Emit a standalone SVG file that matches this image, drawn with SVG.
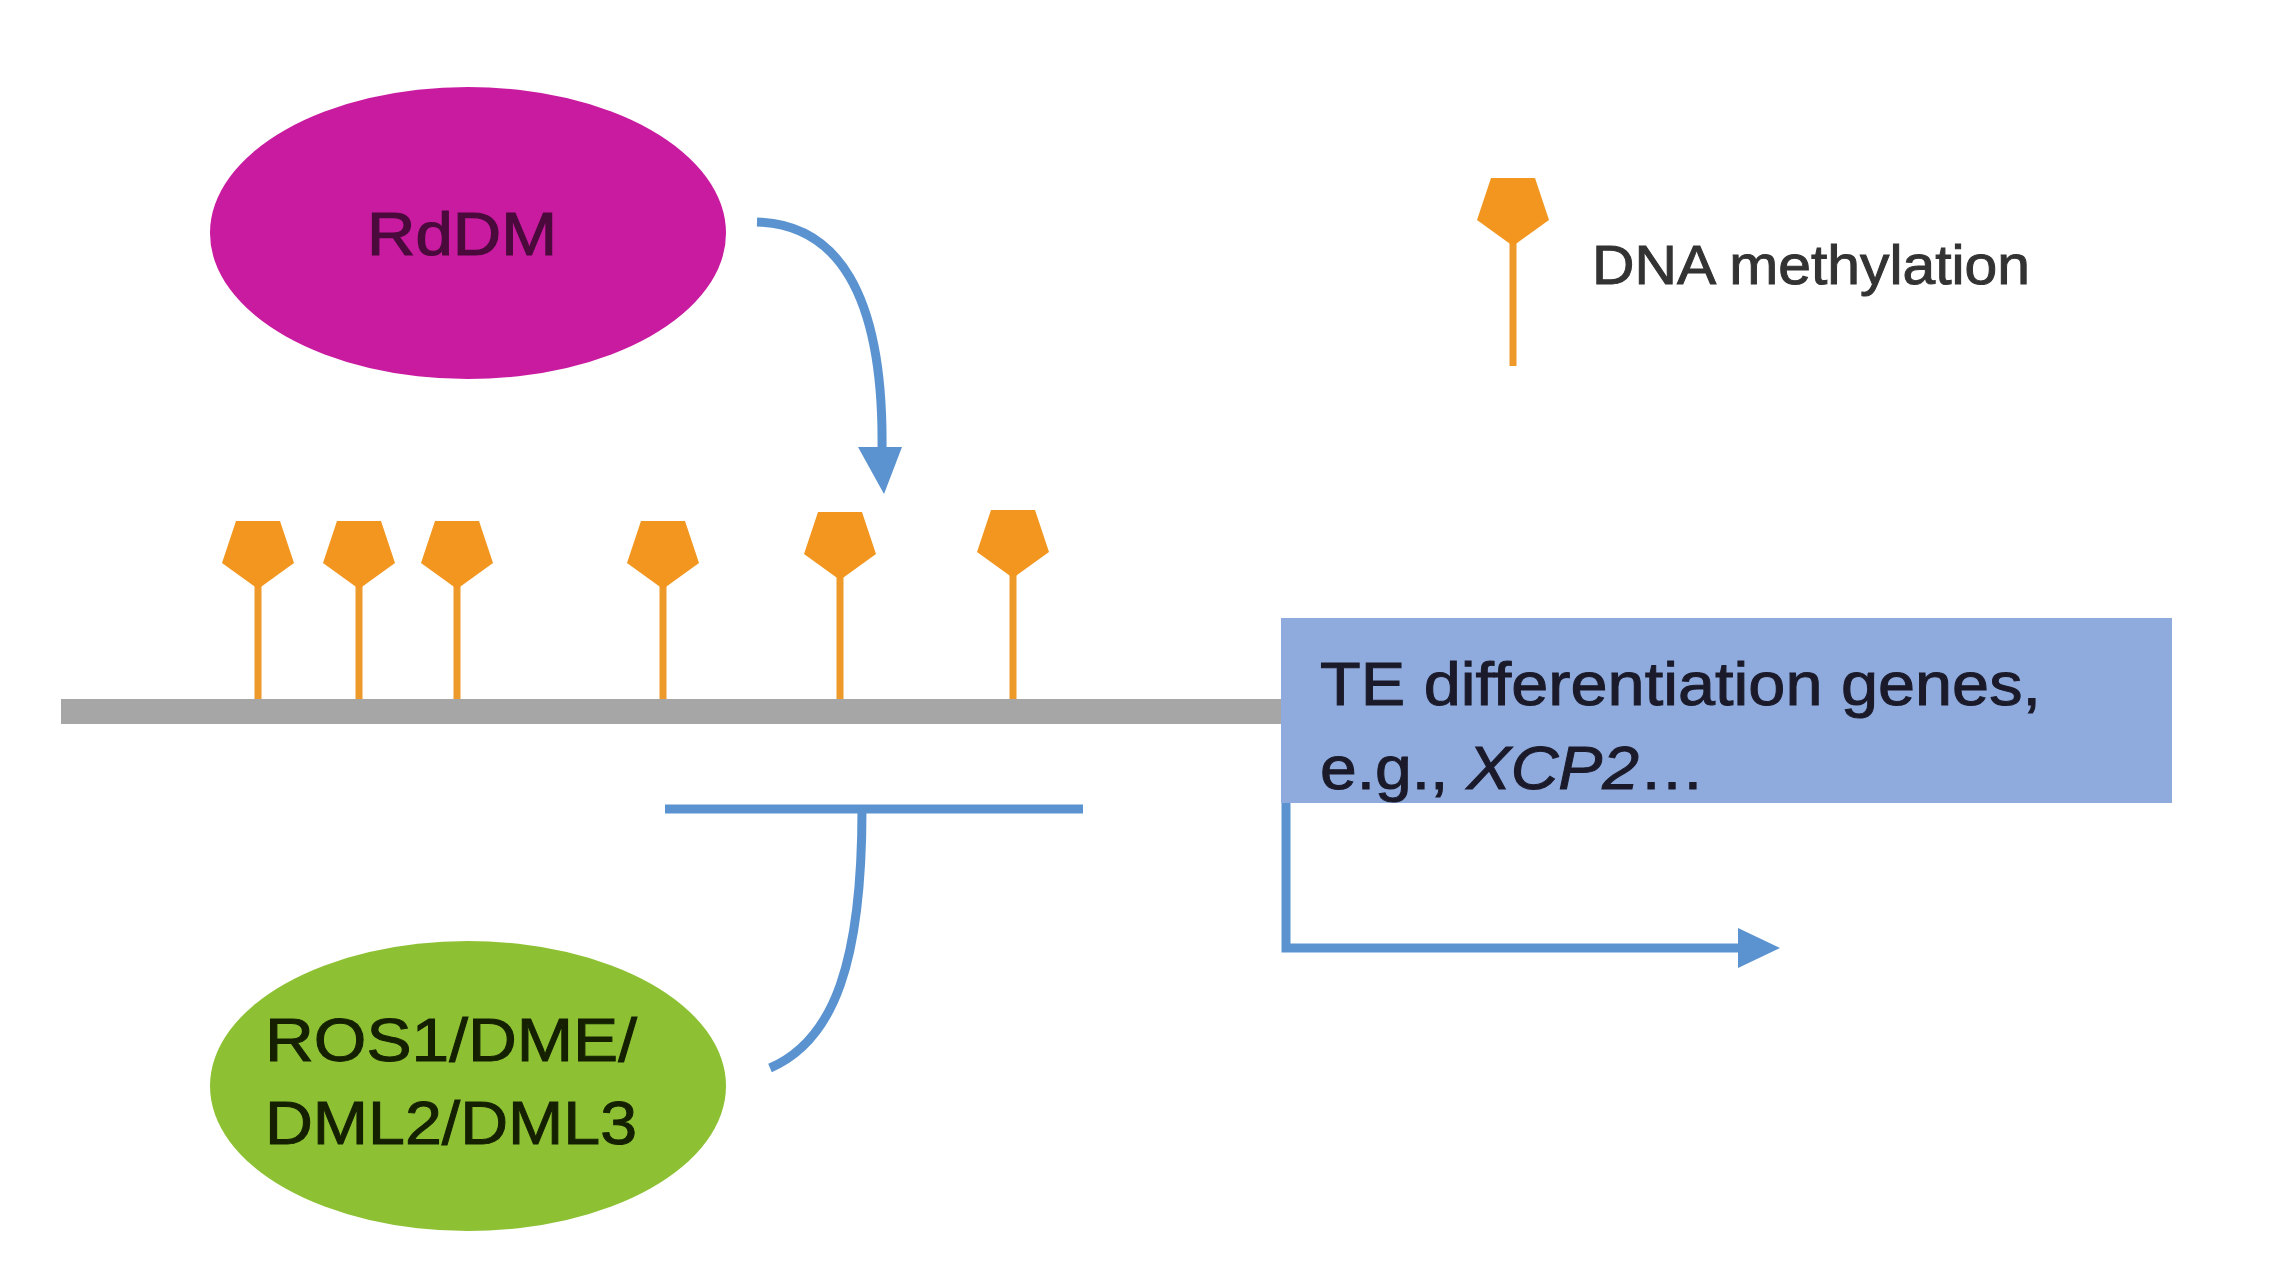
<svg xmlns="http://www.w3.org/2000/svg" xmlns:xlink="http://www.w3.org/1999/xlink" width="2270" height="1280" viewBox="0 0 2270 1280">
<defs>
<style>
.lbl{font-family:"Liberation Sans",Arial,"DejaVu Sans",sans-serif;}
.stem{stroke:#EE9A2A;stroke-width:7;fill:none;}
.head{fill:#F2961F;}
.blue{stroke:#5A93CF;stroke-width:9;fill:none;stroke-linecap:butt;}
</style>
<path id="pent" class="head" d="M-22,0 L22,0 L36,42 L0,68 L-36,42 Z"/>
</defs>
<rect x="0" y="0" width="2270" height="1280" fill="#ffffff"/>

<g id="dna">
<rect x="61" y="699" width="1222" height="25" fill="#A6A6A6"/>
</g>

<g id="methylation-marks">
<line class="stem" x1="258" y1="560" x2="258" y2="699"/>
<use href="#pent" x="258" y="521"/>
<line class="stem" x1="359" y1="560" x2="359" y2="699"/>
<use href="#pent" x="359" y="521"/>
<line class="stem" x1="457" y1="560" x2="457" y2="699"/>
<use href="#pent" x="457" y="521"/>
<line class="stem" x1="663" y1="560" x2="663" y2="699"/>
<use href="#pent" x="663" y="521"/>
<line class="stem" x1="840" y1="552" x2="840" y2="699"/>
<use href="#pent" x="840" y="512"/>
<line class="stem" x1="1013" y1="550" x2="1013" y2="699"/>
<use href="#pent" x="1013" y="510"/>
</g>

<g id="legend">
<line class="stem" x1="1513" y1="215" x2="1513" y2="366"/>
<use href="#pent" x="1513" y="178"/>
<text class="lbl" x="1592" y="284" font-size="56" fill="#333333" stroke="#333333" stroke-width="1" textLength="438" lengthAdjust="spacingAndGlyphs">DNA methylation</text>
</g>

<g id="rddm">
<ellipse cx="468" cy="233" rx="258" ry="146" fill="#C91BA0"/>
<text class="lbl" x="462" y="255" font-size="62" fill="#4A0A3C" stroke="#4A0A3C" stroke-width="1.2" text-anchor="middle" textLength="190" lengthAdjust="spacingAndGlyphs">RdDM</text>
</g>

<g id="demethylases">
<ellipse cx="468" cy="1086" rx="258" ry="145" fill="#8DC133"/>
<text class="lbl" font-size="62" fill="#142000" stroke="#142000" stroke-width="1">
<tspan x="265" y="1061" textLength="372" lengthAdjust="spacingAndGlyphs">ROS1/DME/</tspan>
<tspan x="265" y="1144" textLength="372" lengthAdjust="spacingAndGlyphs">DML2/DML3</tspan>
</text>
</g>

<g id="te-genes">
<rect x="1281" y="618" width="891" height="185" fill="#8FAADC"/>
<text class="lbl" font-size="62" fill="#1A1A2A" stroke="#1A1A2A" stroke-width="1">
<tspan x="1320" y="705" textLength="721" lengthAdjust="spacingAndGlyphs">TE differentiation genes,</tspan>
<tspan x="1320" y="789" textLength="385" lengthAdjust="spacingAndGlyphs">e.g., <tspan font-style="italic">XCP2</tspan>…</tspan>
</text>
</g>

<g id="connectors">
<path class="blue" d="M757,222 C835,224 884,290 882,450"/>
<polygon points="884,494 858,447 902,447" fill="#5A93CF"/>
<line class="blue" x1="665" y1="809" x2="1083" y2="809" stroke="#6894C6" stroke-width="11"/>
<path class="blue" d="M862,809 C862,960 835,1040 770,1068"/>
<path class="blue" d="M1286,803 L1286,948 L1742,948" stroke-width="6"/>
<polygon points="1780,948 1738,928 1738,968" fill="#5A93CF"/>
</g>
</svg>
